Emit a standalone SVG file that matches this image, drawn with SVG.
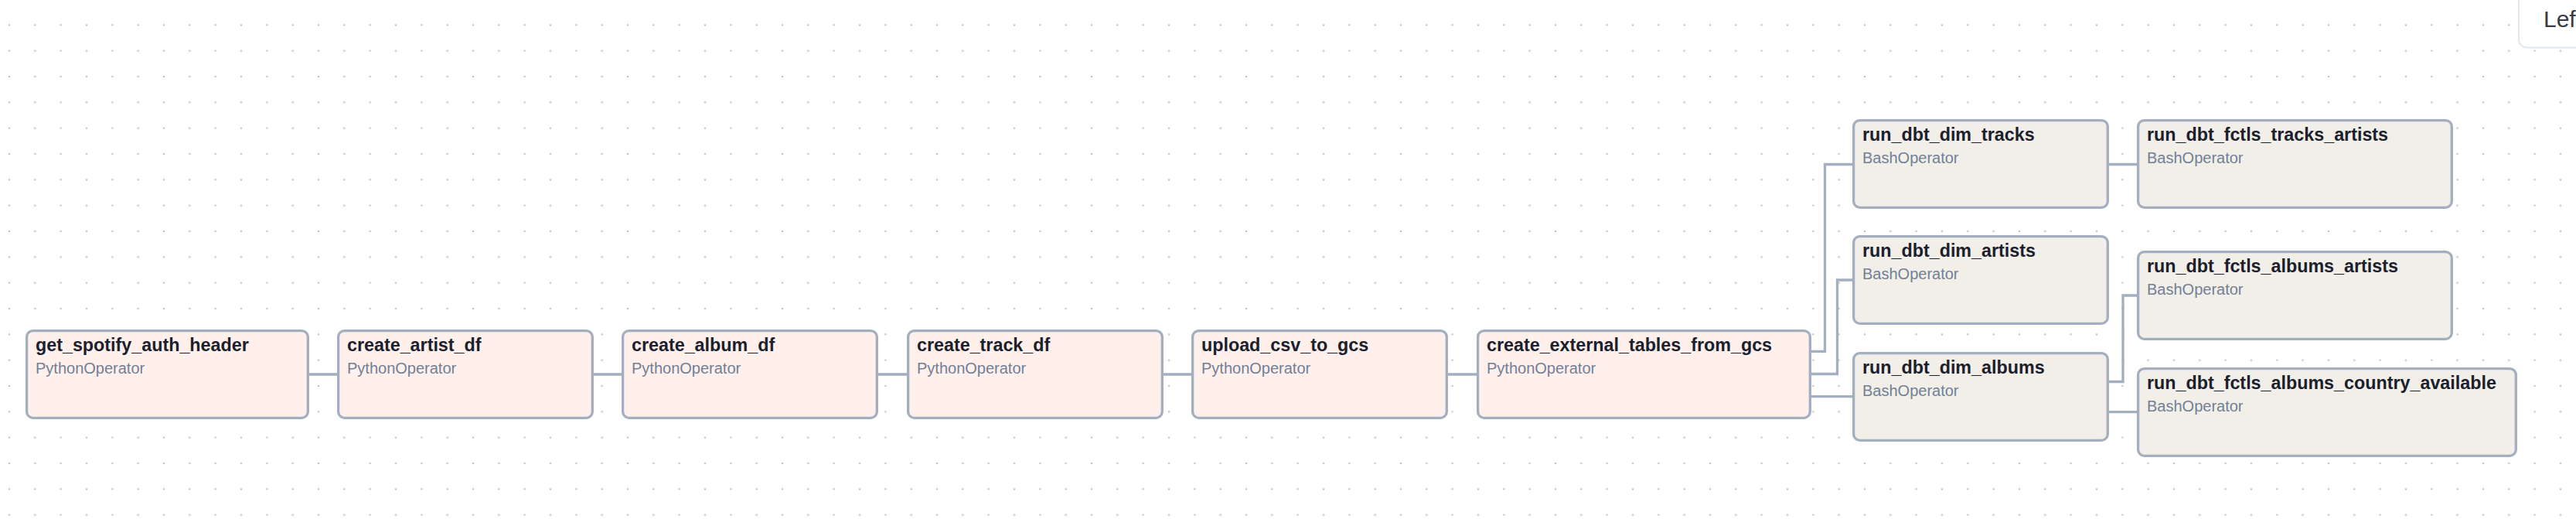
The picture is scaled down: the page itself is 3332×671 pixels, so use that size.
<svg xmlns="http://www.w3.org/2000/svg" width="3332" height="671" viewBox="0 0 3332 671">
<defs>
<pattern id="dots" patternUnits="userSpaceOnUse" x="-4.667" y="15.667" width="33.333" height="33.333">
<circle cx="16.667" cy="16.667" r="1.3" fill="#c4c4ca"/>
</pattern>
<style>
.py { fill: #fff0ec; stroke: #a3aebf; stroke-width: 3.3; }
.bash { fill: #f2efe8; stroke: #a3aebf; stroke-width: 3.3; }
.title { font-family: "Liberation Sans", Arial, sans-serif; font-weight: bold; font-size: 23.3px; fill: #1a202c; }
.sub { font-family: "Liberation Sans", Arial, sans-serif; font-size: 20px; fill: #718096; }
.edge { fill: none; stroke: #a3aebf; stroke-width: 3.3; }
</style>
</defs>
<rect x="0" y="0" width="3332" height="671" fill="#ffffff"/>
<rect x="0" y="0" width="3332" height="671" fill="url(#dots)"/>

<g id="connectors">
<path class="edge" d="M400,484 H436"/>
<path class="edge" d="M768,484 H804"/>
<path class="edge" d="M1136,484 H1173"/>
<path class="edge" d="M1505,484 H1541"/>
<path class="edge" d="M1873,484 H1910"/>
<path class="edge" d="M2343,454.3 H2360.5 V212.5 H2396"/>
<path class="edge" d="M2343,483.5 H2376.5 V362 H2396"/>
<path class="edge" d="M2343,512.7 H2396"/>
<path class="edge" d="M2728,212.5 H2764"/>
<path class="edge" d="M2728,493.5 H2746 V382 H2764"/>
<path class="edge" d="M2728,532.7 H2764"/>
</g>

<g id="get_spotify_auth_header">
<rect class="py" x="34.6" y="427.6" width="363.7" height="112.7" rx="8"/>
<text class="title" x="46" y="453.5">get_spotify_auth_header</text>
<text class="sub" x="46" y="482.5">PythonOperator</text>
</g>
<g id="create_artist_df">
<rect class="py" x="437.6" y="427.6" width="328.7" height="112.7" rx="8"/>
<text class="title" x="449" y="453.5">create_artist_df</text>
<text class="sub" x="449" y="482.5">PythonOperator</text>
</g>
<g id="create_album_df">
<rect class="py" x="805.6" y="427.6" width="328.7" height="112.7" rx="8"/>
<text class="title" x="817" y="453.5">create_album_df</text>
<text class="sub" x="817" y="482.5">PythonOperator</text>
</g>
<g id="create_track_df">
<rect class="py" x="1174.6" y="427.6" width="328.7" height="112.7" rx="8"/>
<text class="title" x="1186" y="453.5">create_track_df</text>
<text class="sub" x="1186" y="482.5">PythonOperator</text>
</g>
<g id="upload_csv_to_gcs">
<rect class="py" x="1542.6" y="427.6" width="328.7" height="112.7" rx="8"/>
<text class="title" x="1554" y="453.5">upload_csv_to_gcs</text>
<text class="sub" x="1554" y="482.5">PythonOperator</text>
</g>
<g id="create_external_tables_from_gcs">
<rect class="py" x="1911.6" y="427.6" width="429.7" height="112.7" rx="8"/>
<text class="title" x="1923" y="453.5">create_external_tables_from_gcs</text>
<text class="sub" x="1923" y="482.5">PythonOperator</text>
</g>
<g id="run_dbt_dim_tracks">
<rect class="bash" x="2397.6" y="155.6" width="328.7" height="112.7" rx="8"/>
<text class="title" x="2409" y="181.5">run_dbt_dim_tracks</text>
<text class="sub" x="2409" y="210.5">BashOperator</text>
</g>
<g id="run_dbt_dim_artists">
<rect class="bash" x="2397.6" y="305.6" width="328.7" height="112.7" rx="8"/>
<text class="title" x="2409" y="331.5">run_dbt_dim_artists</text>
<text class="sub" x="2409" y="360.5">BashOperator</text>
</g>
<g id="run_dbt_dim_albums">
<rect class="bash" x="2397.6" y="456.6" width="328.7" height="112.7" rx="8"/>
<text class="title" x="2409" y="482.5">run_dbt_dim_albums</text>
<text class="sub" x="2409" y="511.5">BashOperator</text>
</g>
<g id="run_dbt_fctls_tracks_artists">
<rect class="bash" x="2765.6" y="155.6" width="405.7" height="112.7" rx="8"/>
<text class="title" x="2777" y="181.5">run_dbt_fctls_tracks_artists</text>
<text class="sub" x="2777" y="210.5">BashOperator</text>
</g>
<g id="run_dbt_fctls_albums_artists">
<rect class="bash" x="2765.6" y="325.6" width="405.7" height="112.7" rx="8"/>
<text class="title" x="2777" y="351.5">run_dbt_fctls_albums_artists</text>
<text class="sub" x="2777" y="380.5">BashOperator</text>
</g>
<g id="run_dbt_fctls_albums_country_available">
<rect class="bash" x="2765.6" y="476.6" width="488.7" height="112.7" rx="8"/>
<text class="title" x="2777" y="502.5">run_dbt_fctls_albums_country_available</text>
<text class="sub" x="2777" y="531.5">BashOperator</text>
</g>

<g id="layout_button">
<rect x="3258" y="-12" width="110" height="73.5" rx="10" fill="#ffffff" stroke="#e2e8f0" stroke-width="2"/>
<text x="3290" y="35" font-family="'Liberation Sans', Arial, sans-serif" font-size="30" fill="#3a3a42">Lef</text>
</g>
</svg>
